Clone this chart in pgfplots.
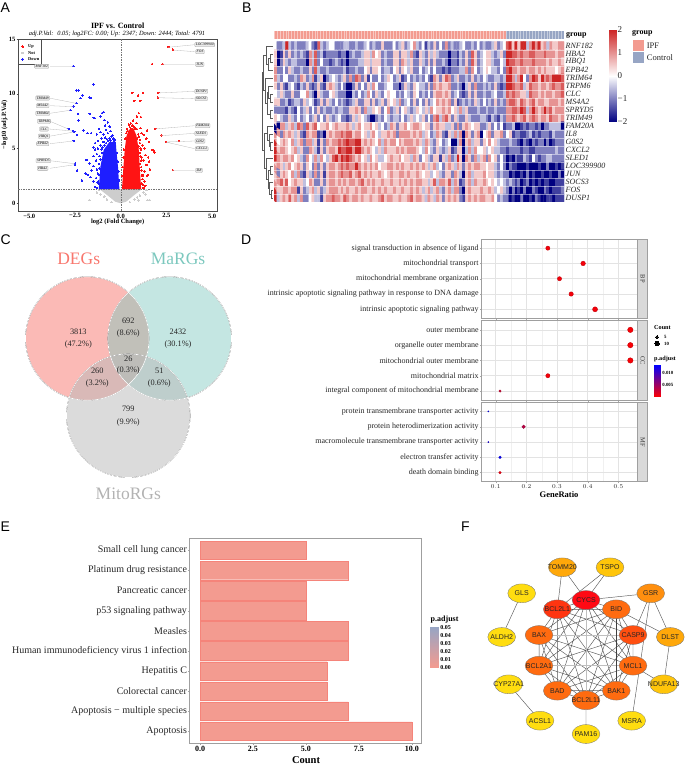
\documentclass[border=0pt]{standalone}
\usepackage{pgfplots}
\usepackage{fontspec}
\pgfplotsset{compat=1.18}
\setmainfont{Liberation Serif}
\newfontfamily\arial{Liberation Sans}
\newcommand\fs[1]{\fontsize{#1}{#1}\selectfont}
\definecolor{ipf}{RGB}{243,155,144}
\definecolor{ctl}{RGB}{151,165,196}
\definecolor{upc}{RGB}{255,20,20}
\definecolor{dnc}{RGB}{30,30,255}
\definecolor{nsc}{RGB}{205,205,205}
\definecolor{vd}{RGB}{248,118,109}
\definecolor{vm}{RGB}{124,200,190}
\definecolor{vg}{RGB}{184,184,184}
\definecolor{n1}{RGB}{255,221,16}
\definecolor{n2}{RGB}{255,197,10}
\definecolor{n3}{RGB}{255,168,10}
\definecolor{n4}{RGB}{255,143,15}
\definecolor{n5}{RGB}{255,107,16}
\definecolor{n6}{RGB}{255,79,16}
\definecolor{n7}{RGB}{255,53,16}
\definecolor{n8}{RGB}{255,10,20}
\pgfplotsset{
  colormap={hm}{rgb255=(0,0,128) rgb255=(255,255,255) rgb255=(205,38,38)},
  colormap={rb}{rgb255=(255,0,0) rgb255=(0,0,255)},
  colormap={pa}{rgb255=(243,155,144) rgb255=(151,165,196)},
  canvas/.style={at={(0pt,0pt)}, anchor=south west, x=1pt, y=1pt, xmin=0, xmax=685, ymin=0, ymax=765, y dir=reverse,
    axis lines=none, clip=false, unbounded coords=jump, tick=\empty},
  cbar/.style={scale only axis, xmin=0, xmax=1, xtick=\empty, yticklabel pos=right, major tick length=0pt,
    axis line style={draw=none}, scaled y ticks=false},
  facet/.style={scale only axis, width=156.4pt, height=79.5pt,
    xmin=0.053, xmax=0.563, ymin=0.4, ymax=5.6, y dir=reverse,
    xtick={0.1,0.2,0.3,0.4,0.5}, minor x tick num=1, ytick={1,2,3,4,5},
    grid=major, xminorgrids, major grid style={gray!22, line width=.5pt},
    minor grid style={gray!12, line width=.3pt},
    axis line style={gray!75, line width=.9pt}, tick style={gray!70, line width=.3pt},
    major tick length=1.5pt, minor tick length=0pt, tick align=outside,
    ticklabel style={font=\fs{8}, text=black!85}, clip=false,
    xtick pos=bottom, ytick pos=left,
    yticklabel style={inner sep=1pt}, xticklabel style={font=\fs{6.5}\bfseries, inner sep=1pt},
    colormap name=rb, point meta min=0, point meta max=0.0134},
  dots/.style={scatter, only marks, mark=*, scatter src=explicit,
    visualization depends on={\thisrow{s}\as\ms},
    scatter/@pre marker code/.append style={/tikz/mark size=\ms}},
  netn/.style={only marks, mark=*, mark size=9.4,
    mark options={xscale=1.48, fill=#1, draw=black!55, line width=.3pt},
    nodes near coords, point meta=explicit symbolic,
    every node near coord/.append style={anchor=center, inner sep=0pt, font=\arial\fs{7}, text=black!85}},
  volc/.style={only marks, mark=*, mark size=.75, color=#1, mark options={solid, draw=#1, fill=#1, line width=0pt}}
}
\begin{document}
\begin{tikzpicture}
\useasboundingbox (0,0) rectangle (685pt,765pt);

% A volcano
\begin{axis}[at={(18pt,726pt)}, anchor=north west, scale only axis, width=199pt, height=172pt,
  xmin=-5.62, xmax=5.27, ymin=-0.7, ymax=15,
  xtick={-5,-2.5,0,2.5,5}, xticklabels={−5.0,−2.5,0.0,2.5,5.0}, ytick={0,5,10,15},
  xtick pos=bottom, ytick pos=left, tick align=outside, major tick length=1.5pt,
  tick label style={font=\fs{6.5}\bfseries, inner sep=1pt},
  axis line style={black!70, line width=.7pt}, tick style={black!70, line width=.3pt},
  /pgf/number format/assume math mode=true]
\addplot[fill=nsc, draw=none] coordinates {(-1.15,1.28)(-.7,.7)(-.3,.15)(0,0)(.3,.15)(.7,.7)(1.15,1.28)} --cycle;
\addplot[volc=nsc] coordinates {(-1.71,.3)(1.48,.3)(1.59,.3)(.98,.28)(-1.3,1.0)(-1.1,.8)(-.9,.6)(1.25,1.0)(1.05,.7)(.9,.55)(1.35,.8)(.75,.35)(-.75,.35)(-.5,.1)(.5,.1)(-1.2,1.2)(1.4,1.2)};
\addplot[fill=upc, draw=none] coordinates {(.07,1.28)(.15,3.35)(.22,4.88)(.31,6.10)(.44,6.7)(.68,6.9)(.86,6.2)(.99,4.88)(1.05,3.05)(1.12,1.28)} --cycle;
\addplot[fill=dnc, draw=none] coordinates {(-.07,1.28)(-.15,3.35)(-.24,4.88)(-.27,5.6)(-.62,5.6)(-.93,4.88)(-1.11,3.35)(-1.2,1.28)} --cycle;
\addplot[volc=upc] coordinates {(2.61,14.27)(2.86,14.02)(2.30,12.71)(1.72,12.71)(2.06,10.09)(2.03,9.66)(1.90,6.80)(2.23,6.19)(2.48,5.61)(3.19,5.70)(2.85,3.02)
 (.64,10.09)(.95,9.85)(1.22,10.09)(.75,9.36)(1.08,9.36)(.99,8.23)(.89,7.93)(1.11,7.87)(.68,7.56)(.86,7.32)(.45,7.2)(.62,7.1)(1.08,6.86)(.89,6.77)(.75,6.95)(1.44,6.65)(1.26,6.25)
 (1.72,4.88)(1.81,4.82)(1.86,4.66)(1.40,5.9)(1.55,5.6)(1.15,6.4)(1.05,5.8)(1.2,5.3)(1.3,5.0)(1.1,4.9)(1.35,4.4)(1.5,4.2)(1.25,3.9)(1.15,4.2)(1.4,3.5)(1.55,3.8)(1.3,2.9)(1.2,2.5)(1.45,2.5)(1.3,2.0)(1.15,1.8)(1.35,1.6)(1.5,2.6)(1.6,3.1)
 (.95,6.3)(1.0,6.1)(.9,5.9)(1.05,5.5)(.98,5.2)(1.08,5.0)(1.02,4.6)(1.08,4.3)(1.12,3.9)(1.05,3.6)(1.12,3.3)(1.15,3.0)(1.18,2.6)(1.2,2.2)(1.22,1.7)(1.25,1.4)
 (.25,5.9)(.3,6.4)(.38,6.6)(.34,6.8)(.5,6.95)(.55,7.3)(.7,7.0)(.78,6.8)(.6,6.8)(.18,4.9)(.14,4.2)(.11,3.3)(.09,2.5)};
\addplot[volc=dnc] coordinates {(-2.59,12.53)(-1.50,10.85)(-2.43,10.3)(-2.32,10.3)(-2.08,9.85)(-2.2,9.6)(-1.7,9.66)(-1.62,9.6)(-2.43,9.15)(-2.57,8.84)(-2.76,8.5)(-2.34,8.17)(-2.32,7.56)(-1.7,8.17)(-1.48,7.8)(-1.42,7.77)
 (-1.02,8.23)(-.93,8.32)(-1.11,7.93)(-2.85,6.8)(-2.61,6.62)(-2.54,6.52)(-2.39,6.25)(-2.03,6.65)(-2.57,5.7)(-2.5,3.63)(-2.5,3.54)(-2.39,2.99)(-2.12,2.1)(-1.93,2.74)(-1.81,2.6)(-1.66,2.4)(-1.48,2.0)(-1.2,1.8)(-1.4,1.5)(-1.88,3.96)(-1.7,3.65)(-1.48,4.3)(-1.4,4.9)(-1.81,6.4)(-1.62,6.4)(-1.5,5.1)
 (-.9,7.6)(-.85,7.1)(-.7,7.4)(-.6,7.0)(-.8,6.7)(-1.2,6.8)(-1.1,6.5)(-1.3,6.3)(-.95,6.3)(-.7,6.4)(-.55,6.6)(-.45,6.2)(-.85,6.0)(-1.05,5.9)(-1.25,5.7)(-1.4,5.5)(-.6,5.9)(-.4,5.9)(-.5,6.1)(-.75,5.85)(-.95,5.6)(-1.1,5.3)(-1.25,5.0)(-1.05,4.9)(-1.3,4.5)(-1.15,4.3)(-1.35,3.9)(-1.2,3.6)(-1.5,3.4)(-1.3,3.1)(-1.25,2.7)(-1.6,3.0)(-1.35,2.3)(-1.28,1.9)(-1.3,1.4)
 (-.3,5.8)(-.35,5.7)(-.55,5.75)(-.68,5.7)(-.8,5.5)(-.88,5.3)(-1.0,5.1)(-1.03,4.6)(-1.1,4.0)(-1.15,3.2)(-1.2,2.6)(-1.23,2.0)(-.2,4.6)(-.16,3.8)(-.12,2.9)(-.09,2.1)};
\addplot[black!55, dash pattern=on 1.5pt off 1pt, line width=.4pt] coordinates {(-5.62,1.28)(5.27,1.28)};
\addplot[black!55, dash pattern=on 1.5pt off 1pt, line width=.4pt] coordinates {(0,-0.7)(0,15)};
\end{axis}

% B heatmap
\begin{axis}[at={(274pt,734.3pt)}, anchor=north west, scale only axis, width=290pt, height=8.6pt,
  xmin=0, xmax=100, ymin=0, ymax=1, xtick={0,...,100}, ytick=\empty, xticklabels={},
  xmajorgrids, major grid style={white, opacity=.45, line width=.2pt}, major tick length=0pt, axis on top, axis line style={draw=none}]
\addplot[fill=ipf, draw=none] coordinates {(0,0)(80,0)(80,1)(0,1)} --cycle;
\addplot[fill=ctl, draw=none] coordinates {(80,0)(100,0)(100,1)(80,1)} --cycle;
\end{axis}

\begin{axis}[at={(274pt,723.3pt)}, anchor=north west, scale only axis, width=290pt, height=160.3pt,
  xmin=-0.5, xmax=99.5, ymin=-0.5, ymax=19.5, y dir=reverse, xtick=\empty,
  ytick={0,...,19}, yticklabels={RNF182,HBA2,HBQ1,EPB42,TRIM64,TRPM6,CLC,MS4A2,SPRYD5,TRIM49,FAM20A,IL8,G0S2,CXCL2,SLED1,LOC399900,JUN,SOCS3,FOS,DUSP1},
  yticklabel pos=right, yticklabel style={font=\fs{8}\itshape, text=black!85, inner sep=1.5pt}, major tick length=0pt,
  axis line style={draw=none}, colormap name=hm, point meta min=-2, point meta max=2,
  minor xtick={0.5,...,98.5}, minor ytick={0.5,...,18.5}, xminorgrids, yminorgrids,
  minor grid style={white, opacity=.5, line width=.2pt}, minor tick length=0pt, axis on top]
\addplot[matrix plot*, point meta=explicit, mesh/cols=100] table[row sep=\\, x expr={mod(\coordindex,100)}, y expr={floor(\coordindex/100)}, meta=v] {v\\
0\\-1\\-1\\-.5\\2\\-.5\\-1\\-.5\\-1\\-1\\ -1\\-.5\\0\\-1\\-1.5\\1.5\\-.5\\-1\\-.5\\0\\ 0\\-1\\-1\\-1\\-.5\\-.5\\-1\\-1\\-.5\\-1\\ -1\\-.5\\0\\-1\\-.5\\-1\\-1\\.5\\-1\\-1\\ -1\\0\\-1\\-.5\\.5\\-1\\-.5\\0\\1\\-.5\\ -1\\0\\-1.5\\-.5\\-1\\.5\\-1\\0\\-1\\1\\ -1\\-.5\\-1\\-1\\-.5\\0\\-1\\-1\\-.5\\-1\\ 0\\-1\\-.5\\-1\\-1\\-.5\\.5\\-1\\-.5\\0\\ 1.5\\2\\.5\\2\\.5\\2\\2\\-.5\\1\\2\\ 1\\2\\.5\\1\\-.5\\1\\.5\\.5\\1\\1\\
.5\\-2\\-1.5\\.5\\-1\\.5\\-1\\-.5\\-1\\-.5\\ -1\\-1.5\\1\\-.5\\1.5\\-1\\-.5\\-1.5\\-1\\-1\\ -1\\-1\\-1.5\\-1\\-1\\-2\\-1\\-.5\\-1\\-1\\ -.5\\.5\\.5\\-.5\\1\\0\\.5\\-1\\-.5\\-1\\ -1\\.5\\.5\\-1\\.5\\.5\\-.5\\1\\-1\\-1.5\\ .5\\-.5\\-1\\.5\\-.5\\.5\\-.5\\-1\\-1\\-1\\ -2\\-1\\-1\\-1.5\\-.5\\-1\\.5\\-1\\1.5\\.5\\ -1\\-.5\\0\\.5\\.5\\-.5\\-1\\-.5\\.5\\-1\\ 2\\2\\1.5\\1.5\\1\\1.5\\1\\1\\1.5\\1.5\\ 1\\1\\1\\1.5\\1\\1\\1\\.5\\1\\1\\
.5\\-2\\-1\\.5\\-.5\\-1\\-.5\\-.5\\-1\\-1\\ -1\\-2\\1\\-.5\\1.5\\-1\\0\\-1\\-1\\-1.5\\ -1\\-.5\\-1\\-1.5\\-1\\-2\\-1\\-1\\-1\\-.5\\ -.5\\.5\\.5\\-.5\\.5\\.5\\.5\\-1\\-.5\\-1\\ -1\\.5\\.5\\-1\\1\\.5\\-.5\\.5\\-1\\-1\\ .5\\-.5\\-1\\.5\\-1\\.5\\-1\\-1\\-.5\\-1\\ -2\\-1\\-1\\-1.5\\-.5\\-1\\.5\\-1\\1.5\\.5\\ -1\\-.5\\0\\.5\\.5\\-.5\\-1\\-1\\0\\-.5\\ 2\\1.5\\1.5\\1\\1\\1.5\\1\\1\\1\\1.5\\ 1\\1\\1\\1\\.5\\1\\.5\\.5\\1\\.5\\
1\\-1\\-1\\0\\-1\\.5\\-.5\\-1\\-1\\-.5\\ -1\\-1\\.5\\-1\\1.5\\-.5\\-1\\-1\\-.5\\-1\\ -1\\-1\\-1\\-1\\-.5\\-1.5\\-1\\-1\\-.5\\-1\\ -1\\0\\.5\\-1\\.5\\.5\\0\\-1\\-.5\\-.5\\ -1\\0\\.5\\-1\\.5\\0\\-.5\\.5\\-1\\-1\\ 0\\-1\\-.5\\0\\-1\\0\\-1\\-1\\-1.5\\-1\\ -1.5\\-1\\-1\\-1\\-.5\\-.5\\1\\-1\\1\\0\\ -1\\-.5\\0\\.5\\0\\-.5\\-.5\\-1\\0\\-1\\ 1.5\\2\\1\\1\\.5\\1\\1\\.5\\1\\1\\ .5\\1\\.5\\1\\.5\\.5\\.5\\0\\.5\\1\\
1\\-.5\\-1\\0\\0\\-1\\-1\\-.5\\-1\\1\\ .5\\-1\\-.5\\1\\-1.5\\-.5\\.5\\-2\\-1\\-.5\\ 0\\-.5\\-1\\-.5\\.5\\-1\\1\\-1\\1.5\\1\\ -1\\.5\\-1.5\\0\\-1\\-1\\0\\-1\\-.5\\.5\\ 0\\-1\\-.5\\.5\\-1.5\\-1\\0\\-1\\-.5\\-1\\ -.5\\-1\\0\\-1\\-1.5\\1\\.5\\-1\\.5\\1.5\\ 1\\-1\\-.5\\.5\\-1\\-1\\-.5\\-1\\.5\\-1\\ -.5\\-1\\0\\-.5\\-1\\-1\\-.5\\-.5\\-1\\-.5\\ 2\\2\\1\\-.5\\1\\2\\0\\-1\\1\\2\\ 1.5\\.5\\2\\1\\1.5\\1\\2\\2\\2\\1.5\\
.5\\-1\\.5\\-1\\-1.5\\-.5\\0\\-1\\-1.5\\-.5\\ -1\\.5\\-1\\-1.5\\-1\\.5\\-1\\-1.5\\.5\\1\\ .5\\-.5\\-1\\0\\-1\\-2\\-2\\-1\\.5\\-1\\ 0\\-1\\.5\\-.5\\1\\0\\-1\\-1\\-.5\\0\\ 0\\-1\\-1\\-2\\-1\\.5\\-.5\\-1\\.5\\0\\ -.5\\-.5\\-1\\.5\\-1\\1\\.5\\1\\.5\\.5\\ 1\\-1\\-1\\-.5\\-1\\-2\\-.5\\.5\\-1\\1\\ -1\\-1\\-.5\\-1\\-.5\\-1\\.5\\-1\\-1.5\\-1\\ 2\\2\\1.5\\1\\1\\1.5\\-.5\\.5\\1.5\\1\\ 1\\.5\\1\\1\\.5\\1\\1.5\\1\\1\\1.5\\
0\\-.5\\.5\\-.5\\-1\\-1\\.5\\-1\\-1\\0\\ 0\\1\\-.5\\-1\\-2\\.5\\-.5\\-1\\-1\\0\\ .5\\-.5\\-1\\-1\\-1\\-2\\-2\\-.5\\-1\\0\\ -1\\-.5\\1\\0\\-1\\.5\\-.5\\-1\\0\\.5\\ 0\\0\\-1\\-.5\\-1\\0\\-.5\\-1\\.5\\0\\ -1\\-.5\\-1\\0\\-1\\.5\\1\\1\\.5\\1\\ .5\\-1\\-.5\\0\\-1\\-1.5\\-1\\.5\\-1\\.5\\ -1\\-1\\-.5\\-1\\-1\\-.5\\0\\-1\\-1\\-.5\\ 1.5\\1\\1.5\\1\\1\\.5\\.5\\-.5\\1.5\\1\\ 1\\.5\\1\\.5\\1\\1\\.5\\1\\1\\1.5\\
.5\\.5\\-1\\-1\\-.5\\-1.5\\-1\\-.5\\-.5\\-1\\ .5\\-.5\\0\\-.5\\-1.5\\-1\\.5\\-1\\.5\\-.5\\ -1\\0\\-1\\-.5\\-1\\-1.5\\-1\\-.5\\.5\\-1\\ -1\\.5\\.5\\-1\\.5\\-1\\-.5\\.5\\-1\\.5\\ 0\\.5\\-.5\\1\\-1\\-.5\\0\\-1\\.5\\-1\\ 0\\-1\\.5\\-1\\-.5\\0\\1\\.5\\1\\.5\\ 1\\-1\\.5\\-1.5\\-1\\-.5\\-1\\-.5\\-1\\.5\\ -.5\\-1\\0\\-1\\-.5\\-1\\.5\\-1\\-.5\\-1\\ 1\\1.5\\1.5\\1\\.5\\1.5\\1\\.5\\1\\1.5\\ .5\\1\\1\\.5\\.5\\1\\1\\1\\.5\\1\\
-1\\-1\\-1\\-1\\-1.5\\-.5\\-1\\-1.5\\0\\-1\\ -.5\\.5\\-1\\0\\-1\\.5\\-1\\-.5\\-1\\-1\\ -.5\\-1\\-.5\\-.5\\-1\\-1\\.5\\.5\\1\\.5\\ -1\\1\\-.5\\-.5\\.5\\0\\.5\\-1\\0\\1\\ -1\\-.5\\.5\\-1\\0\\.5\\-.5\\-1\\-.5\\.5\\ 0\\-.5\\.5\\-.5\\1\\0\\.5\\.5\\1\\.5\\ 1\\0\\.5\\-.5\\1\\-.5\\.5\\-1\\-1\\-1\\ -.5\\-1\\-1\\-.5\\-1\\-1\\-.5\\-1\\-1\\-1\\ 1\\1\\1.5\\1.5\\1\\2\\1.5\\-.5\\1\\2\\ 1\\.5\\1\\2\\1\\1.5\\.5\\1\\1\\1\\
.5\\0\\-.5\\-1\\-1\\.5\\-.5\\-1\\0\\-1\\ -.5\\0\\-1\\-.5\\.5\\-1\\0\\-1\\.5\\-.5\\ -1\\-.5\\0\\-1\\-1\\-1.5\\-1\\.5\\-.5\\.5\\ 0\\-.5\\-1\\-2\\-2\\-1\\-.5\\-1\\0\\-.5\\ -1\\-.5\\-.5\\-1\\0\\-1\\-.5\\.5\\-.5\\0\\ -.5\\.5\\-1\\0\\-1\\1\\1.5\\-.5\\1\\1.5\\ .5\\-1\\.5\\-.5\\-1\\-1\\.5\\-.5\\-1\\-1\\ -1\\-.5\\-.5\\-1\\-1.5\\-.5\\-1\\-1.5\\-.5\\-1\\ 1\\1\\1.5\\1\\.5\\1\\1.5\\.5\\1\\1.5\\ 1\\.5\\1\\1\\.5\\1.5\\1\\1\\.5\\1\\
.5\\-2\\1\\1\\-.5\\.5\\1\\-.5\\1.5\\1\\ -1\\1.5\\.5\\1\\1.5\\0\\.5\\.5\\1\\0\\ .5\\1\\.5\\.5\\.5\\1\\.5\\-.5\\.5\\1\\ 0\\.5\\.5\\1\\0\\.5\\-.5\\0\\-1\\-.5\\ 1\\.5\\-1\\.5\\.5\\1\\0\\.5\\1\\1\\ .5\\0\\.5\\.5\\-1\\.5\\1\\.5\\.5\\-.5\\ -.5\\.5\\-1\\1\\-1\\.5\\1\\.5\\0\\.5\\ .5\\-1\\-1\\-.5\\.5\\-1\\0\\-1\\0\\-1.5\\ -1\\-1\\-.5\\-2\\-2\\-1.5\\-1\\-1.5\\-1\\-1\\ -1.5\\-1\\-2\\-1\\-1\\-.5\\-.5\\-.5\\-.5\\-2\\
-2\\1\\-1\\1\\.5\\1\\.5\\-.5\\.5\\-1\\ -1.5\\1\\.5\\1\\1\\-1.5\\-1\\-2\\.5\\1\\ .5\\1\\1\\1.5\\1\\1.5\\1.5\\.5\\1\\1\\ 0\\.5\\-.5\\.5\\1\\0\\-.5\\.5\\.5\\1\\ .5\\1\\-1\\1\\1\\1\\1\\.5\\1\\.5\\ 1\\-.5\\.5\\0\\-1\\-.5\\1\\.5\\-1\\-1.5\\ .5\\-.5\\1\\-.5\\1\\-2\\1\\.5\\-1\\.5\\ 1\\-2\\0\\.5\\1\\-1\\.5\\.5\\1\\-1\\ 0\\.5\\-1.5\\-1\\-1\\-1.5\\-1.5\\-1\\-.5\\-1.5\\ -1\\-1.5\\-1\\-1\\-1\\-1.5\\-.5\\-1\\-1\\-1\\
1\\0\\.5\\1\\.5\\0\\1\\-.5\\.5\\1\\ -1\\1\\1\\-.5\\.5\\-1.5\\.5\\-1\\1\\.5\\ 1\\1\\1.5\\1\\1.5\\2\\1.5\\1.5\\2\\2\\ .5\\1\\.5\\1\\.5\\0\\1\\-.5\\1\\.5\\ 1\\1\\0\\1\\.5\\1\\1\\1\\.5\\1\\ .5\\-.5\\1\\.5\\-.5\\-1\\.5\\0\\-1\\-.5\\ 0\\-2\\-2\\-.5\\1\\-2\\.5\\1\\-.5\\.5\\ .5\\-1\\.5\\0\\1\\0\\.5\\-.5\\-1\\-1\\ -1\\-.5\\-1\\-1\\-1.5\\-2\\-1\\-1.5\\-2\\-1\\ -1.5\\-1\\-1\\-2\\-1\\-2\\-1.5\\-1\\-1\\-1\\
2\\.5\\1\\1\\.5\\0\\.5\\1\\-.5\\.5\\ -1\\-1\\1\\.5\\-.5\\-1.5\\.5\\-1\\.5\\1\\ 1\\.5\\2\\1.5\\1.5\\2\\2\\1\\2\\2\\ 1\\.5\\1\\.5\\0\\-.5\\.5\\-.5\\1\\.5\\ .5\\.5\\1\\.5\\1\\.5\\1\\1\\1\\.5\\ 0\\-.5\\1\\0\\-.5\\-1\\.5\\-.5\\-1\\-.5\\ .5\\-1.5\\-1\\.5\\.5\\-2\\-.5\\1\\-.5\\1\\ 0\\0\\.5\\-.5\\0\\.5\\-.5\\-.5\\-1\\-1\\ -1.5\\-1\\-1\\-1\\-1\\-1.5\\-1\\-1\\-1.5\\-1.5\\ -1\\-1\\-1\\-1\\-1\\-1\\-1\\-.5\\-1\\-1\\
2\\1\\.5\\1\\1\\.5\\1\\0\\.5\\-.5\\ -1\\1\\0\\-.5\\1\\-.5\\1\\0\\-.5\\.5\\ 1.5\\2\\1\\2\\1.5\\2\\1.5\\1\\.5\\1\\ 0\\.5\\-.5\\1\\0\\.5\\-.5\\-.5\\0\\.5\\ 1\\.5\\.5\\1\\0\\.5\\.5\\-.5\\1\\.5\\ -1\\0\\.5\\-.5\\-1\\.5\\.5\\-1.5\\.5\\-.5\\ 1\\-1\\-.5\\2\\.5\\-2\\1\\.5\\-1\\1\\ -.5\\.5\\1\\-1\\1\\0\\.5\\-1\\0\\-1\\ -2\\-1.5\\-2\\-1\\-1.5\\-1.5\\-.5\\-1\\-1.5\\0\\ -1\\-1.5\\-1\\-1\\-.5\\-.5\\-1\\-1\\-1\\-1\\
.5\\1\\.5\\-.5\\.5\\1\\0\\.5\\1\\.5\\ -1\\.5\\0\\-1\\1\\-1\\.5\\-1\\.5\\1\\ 1\\.5\\1\\1.5\\1\\1.5\\1\\1\\2\\1\\ .5\\1\\.5\\1\\.5\\1\\0\\.5\\.5\\1\\ 1\\.5\\1\\.5\\1\\.5\\.5\\1\\.5\\1\\ .5\\1\\.5\\-.5\\.5\\1\\-.5\\0\\-1\\.5\\ 1\\.5\\-.5\\1\\.5\\-1\\.5\\1\\.5\\1\\ 1\\.5\\.5\\0\\.5\\.5\\-.5\\-1\\0\\-1\\ -2\\-1\\-1.5\\-1.5\\-2\\-2\\-2\\-1.5\\-2\\-2\\ -2\\-1.5\\-2\\-2\\-1\\-2\\-2\\-1.5\\-2\\-1.5\\
1\\-1\\.5\\1\\.5\\0\\1\\-.5\\1\\-1\\ -1.5\\.5\\-.5\\-1\\1\\-1\\.5\\-1.5\\.5\\1\\ 1\\.5\\1\\1.5\\1\\1\\1.5\\.5\\1\\1.5\\ .5\\1\\.5\\1\\.5\\.5\\1\\.5\\0\\.5\\ 1\\.5\\.5\\1\\1\\.5\\1\\.5\\.5\\1\\ .5\\0\\.5\\.5\\-.5\\0\\.5\\-.5\\-1\\.5\\ .5\\-1\\1\\.5\\-.5\\-2\\.5\\1\\-.5\\.5\\ .5\\.5\\1\\0\\.5\\.5\\-.5\\-1\\-.5\\-1\\ -1\\-2\\-1.5\\-2\\-2\\-1.5\\-2\\-1\\-2\\-1.5\\ -2\\-2\\-1.5\\-2\\-2\\-1.5\\-2\\-2\\-1\\-2\\
.5\\1\\1.5\\.5\\1.5\\0\\.5\\1\\.5\\.5\\ -.5\\0\\1\\.5\\-1\\-1\\.5\\-1\\.5\\1\\ 1\\.5\\1\\.5\\1\\.5\\1\\1\\.5\\1\\ 1.5\\.5\\1\\.5\\1\\.5\\.5\\1\\.5\\.5\\ 1\\.5\\.5\\1\\.5\\1\\.5\\1\\.5\\1\\ 1\\.5\\.5\\-.5\\.5\\1.5\\-.5\\1\\1\\.5\\ 1.5\\-.5\\1\\.5\\-1.5\\-1\\.5\\1\\-.5\\1\\ .5\\.5\\1\\.5\\0\\.5\\0\\-.5\\0\\-.5\\ -1\\-.5\\-1\\-1.5\\-1\\-2\\-1.5\\-1\\-2\\-1.5\\ -2\\-1.5\\-2\\-1.5\\-1.5\\-2\\-2\\-1.5\\-1.5\\-1.5\\
1\\.5\\.5\\1\\1\\.5\\1\\1\\-1.5\\.5\\ -1\\-.5\\.5\\1\\-.5\\.5\\-1\\-.5\\.5\\1\\ 1\\1\\.5\\1\\.5\\1\\.5\\.5\\1\\.5\\ 1\\1\\.5\\.5\\1\\.5\\1\\.5\\1\\.5\\ .5\\1\\.5\\.5\\1\\.5\\.5\\1\\.5\\1\\ .5\\-.5\\.5\\1\\-.5\\.5\\1\\-.5\\-1\\.5\\ 1\\-.5\\1\\1\\-1\\-2\\.5\\1\\.5\\.5\\ .5\\1\\.5\\.5\\1\\.5\\-.5\\0\\.5\\-.5\\ -1\\-2\\-1\\-2\\-1.5\\-2\\-1\\-2\\-2\\-1\\ -1.5\\-2\\-2\\-1\\-1.5\\-2\\-1.5\\-1.5\\-1.5\\-1\\
2\\-.5\\.5\\1\\.5\\1.5\\.5\\1\\-.5\\1\\ -1\\-1\\0\\.5\\-.5\\-.5\\-1.5\\.5\\1\\1\\ 1.5\\1\\1\\.5\\1.5\\1\\.5\\1\\1\\.5\\ 1\\.5\\.5\\1\\.5\\.5\\1\\1.5\\.5\\1\\ 1\\.5\\.5\\1\\.5\\.5\\1\\1.5\\.5\\1\\ 1\\.5\\-.5\\1\\.5\\-.5\\1\\.5\\-1\\.5\\ 1\\.5\\1\\.5\\-1\\-1.5\\.5\\1\\.5\\1\\ .5\\1\\1\\.5\\.5\\1\\0\\-1\\-.5\\-1\\ -1\\-2\\-1.5\\-2\\-2\\-1\\-2\\-2\\-1.5\\-2\\ -1\\-1.5\\-2\\-2\\-1.5\\-1.5\\-2\\-1.5\\-1.5\\-1.5\\
};
\end{axis}

\begin{axis}[cbar, at={(609.3pt,735pt)}, anchor=north west, width=6.7pt, height=92pt,
  ymin=-2, ymax=2, ytick={-2,-1,0,1,2}, yticklabels={−2,−1,0,1,2},
  yticklabel style={font=\fs{9}, text=black!85, inner sep=1.5pt},
  colormap name=hm, point meta min=-2, point meta max=2]
\addplot[surf, shader=interp, point meta=y, mesh/cols=2] coordinates {(0,-2)(1,-2)(0,-1)(1,-1)(0,0)(1,0)(0,1)(1,1)(0,2)(1,2)};
\end{axis}

% D dot facets
\begin{axis}[facet, at={(481.3pt,526pt)}, anchor=north west, xticklabels={},
  yticklabels={signal transduction in absence of ligand,mitochondrial transport,mitochondrial membrane organization,intrinsic apoptotic signaling pathway in response to DNA damage,intrinsic apoptotic signaling pathway}]
\addplot[dots] table[x=x,y=y,meta=m] {
x y s m
0.27 1 2.1 0.0005
0.385 2 2.3 0.0005
0.308 3 2.1 0.0005
0.346 4 2.2 0.0005
0.424 5 2.5 0.0005
};
\end{axis}
\begin{axis}[facet, at={(481.3pt,444.3pt)}, anchor=north west, xticklabels={},
  yticklabels={outer membrane,organelle outer membrane,mitochondrial outer membrane,mitochondrial matrix,integral component of mitochondrial membrane}]
\addplot[dots] table[x=x,y=y,meta=m] {
x y s m
0.539 1 2.7 0.0003
0.539 2 2.7 0.0003
0.539 3 2.7 0.0003
0.27 4 2.1 0.0005
0.114 5 1.2 0.0025
};
\end{axis}
\begin{axis}[facet, at={(481.3pt,362.7pt)}, anchor=north west,
  yticklabels={protein transmembrane transporter activity,protein heterodimerization activity,macromolecule transmembrane transporter activity,electron transfer activity,death domain binding}]
\addplot[dots] table[x=x,y=y,meta=m] {
x y s m
0.076 1 .6 0.013
0.191 2 1.8 0.0035
0.076 3 .6 0.012
0.114 4 1.3 0.013
0.114 5 1.3 0.001
};
\end{axis}

\begin{axis}[cbar, at={(654pt,400pt)}, anchor=north west, width=6.7pt, height=32pt,
  ymin=0.0001, ymax=0.0134, ytick={0.005,0.01}, yticklabels={0.005,0.010},
  yticklabel style={font=\fs{4.8}\bfseries, inner sep=1.5pt},
  colormap name=rb, point meta min=0.0001, point meta max=0.0134]
\addplot[surf, shader=interp, point meta=y, mesh/cols=2] coordinates {(0,0.0001)(1,0.0001)(0,0.0134)(1,0.0134)};
\end{axis}

% E bars
\begin{axis}[at={(189.7pt,226.7pt)}, anchor=north west, scale only axis, width=232pt, height=205pt,
  xmin=-0.487, xmax=10.47, ymin=0.4, ymax=10.6, y dir=reverse,
  xtick={0,2.5,5,7.5,10}, xticklabels={0.0,2.5,5.0,7.5,10.0}, ytick={1,...,10},
  yticklabels={Small cell lung cancer,Platinum drug resistance,Pancreatic cancer,p53 signaling pathway,Measles,Human immunodeficiency virus 1 infection,Hepatitis C,Colorectal cancer,Apoptosis − multiple species,Apoptosis},
  xtick pos=bottom, ytick pos=left, tick align=outside, major tick length=1.5pt,
  axis line style={gray!75, line width=.7pt}, tick style={gray!70, line width=.3pt},
  yticklabel style={font=\fs{10}, text=black!85, inner sep=1pt}, xticklabel style={font=\fs{8}\bfseries, inner sep=1pt}]
\addplot[xbar, bar width=18.5pt, fill=ipf, draw=ipf!85!red, line width=.3pt] coordinates {(5,1)(7,2)(5,3)(5,4)(7,5)(7,6)(6,7)(6,8)(7,9)(10,10)};
\end{axis}

\begin{axis}[cbar, at={(430pt,137.7pt)}, anchor=north west, width=8.7pt, height=40pt,
  ymin=0, ymax=0.05, ytick={0,0.01,0.02,0.03,0.04,0.05}, yticklabels={0.00,0.01,0.02,0.03,0.04,0.05},
  yticklabel style={font=\fs{6}\bfseries, inner sep=1.5pt},
  colormap name=pa, point meta min=0, point meta max=0.05]
\addplot[surf, shader=interp, point meta=y, mesh/cols=2] coordinates {(0,0)(1,0)(0,0.05)(1,0.05)};
\end{axis}

% pixel canvas: everything else
\begin{axis}[canvas]

% panel letters
\node[font=\arial\fs{14}, anchor=west, inner sep=0] at (axis cs:0.5,8) {A};
\node[font=\arial\fs{14}, anchor=west, inner sep=0] at (axis cs:242,8) {B};
\node[font=\arial\fs{14}, anchor=west, inner sep=0] at (axis cs:0.5,240) {C};
\node[font=\arial\fs{14}, anchor=west, inner sep=0] at (axis cs:241,240) {D};
\node[font=\arial\fs{14}, anchor=west, inner sep=0] at (axis cs:0.5,527) {E};
\node[font=\arial\fs{14}, anchor=west, inner sep=0] at (axis cs:461,527) {F};

% A titles and legend
\node[font=\fs{8}\bfseries] at (axis cs:117.7,26) {IPF vs. Control};
\node[font=\fs{6.4}\itshape] at (axis cs:117,33.7) {adj.P.Val:~ 0.05; log2FC: 0.00; Up: 2347; Down: 2444; Total: 4791};
\node[font=\fs{6.5}\bfseries] at (axis cs:117.7,222.3) {log2 (Fold Change)};
\node[font=\fs{6.5}\bfseries, rotate=90] at (axis cs:4.7,125) {−log10 (adj.P.Val)};
\addplot[fill=white, draw=black!70, line width=.5pt] coordinates {(18,39)(41.3,39)(41.3,64.3)(18,64.3)} --cycle;
\addplot[volc=upc, mark size=.9] coordinates {(22.7,46.7)};
\addplot[volc=nsc, mark size=.9] coordinates {(22.7,53)};
\addplot[volc=dnc, mark size=.9] coordinates {(22.7,59.3)};
\node[font=\fs{4.4}\bfseries, anchor=west, inner sep=0] at (axis cs:28,46.7) {Up};
\node[font=\fs{4.4}\bfseries, anchor=west, inner sep=0] at (axis cs:28,53) {Not};
\node[font=\fs{4.4}\bfseries, anchor=west, inner sep=0] at (axis cs:28,59.3) {Down};
% A connectors, px
\addplot[gray!55, line width=.3pt] coordinates {
(168,47.3)(194.7,44.7)(nan,nan)(172.7,50)(194.7,51.7)(nan,nan)(162.3,64.3)(194.7,64.3)(nan,nan)
(158,93)(194.7,91.3)(nan,nan)(157.3,97.7)(194.7,98.7)(nan,nan)(155,129)(194.7,125.7)(nan,nan)(161,135.7)(194.7,133.3)(nan,nan)(165.7,142)(194.7,141)(nan,nan)(165.7,142)(194.7,148.7)(nan,nan)(172.3,170.3)(194.7,170.3)(nan,nan)
(73,66.3)(50,66.3)(nan,nan)(76,103.3)(49,98)(nan,nan)(73.3,106.7)(50,105.7)(nan,nan)(70,110.3)(50,113.3)(nan,nan)(68.3,129)(50,121.3)(nan,nan)(72.7,131)(49,129)(nan,nan)(74,132)(49,136.3)(nan,nan)(73.3,141)(50,143.7)(nan,nan)(74.7,163.7)(50,160.7)(nan,nan)(74.7,164.7)(50,168.3)};
\tikzset{gl/.style={draw=gray!70, fill=white!92!black, rounded corners=.8pt, font=\fs{3.6}\itshape, inner xsep=1pt, inner ysep=.9pt, line width=.3pt}}
\node[gl] at (axis cs:204.7,44.7) {LOC399900};
\node[gl] at (axis cs:200,51.7) {FOS};
\node[gl] at (axis cs:199.7,64.3) {JUN};
\node[gl] at (axis cs:201.3,91.3) {DUSP1};
\node[gl] at (axis cs:201.3,98.7) {SOCS3};
\node[gl] at (axis cs:202.7,125.7) {FAM20A};
\node[gl] at (axis cs:201,133.3) {SLED1};
\node[gl] at (axis cs:200,141) {G0S2};
\node[gl] at (axis cs:201.7,148.7) {CXCL2};
\node[gl] at (axis cs:199,170.3) {IL8};
\node[gl] at (axis cs:41.7,66.3) {RNF182};
\node[gl] at (axis cs:42.7,98) {TRIM49};
\node[gl] at (axis cs:42.7,105.7) {MS4A2};
\node[gl] at (axis cs:42.7,113.3) {TRIM64};
\node[gl] at (axis cs:44,121.3) {TRPM6};
\node[gl] at (axis cs:44,129) {CLC};
\node[gl] at (axis cs:44,136.3) {HBQ1};
\node[gl] at (axis cs:42.7,143.7) {EPB42};
\node[gl] at (axis cs:43.3,160.7) {SPRYD5};
\node[gl] at (axis cs:42.7,168.3) {HBA2};

% B dendrogram and legend
\addplot[gray!70!black, line width=.35pt] coordinates {
(273,53.7)(270.5,53.7)(270.5,61.7)(273,61.7)(nan,nan)
(270.5,57.7)(268.5,57.7)(268.5,69.7)(273,69.7)(nan,nan)
(273,45.7)(266.5,45.7)(266.5,63.7)(268.5,63.7)(nan,nan)
(273,93.7)(270,93.7)(270,101.7)(273,101.7)(nan,nan)
(273,85.7)(268.5,85.7)(268.5,97.7)(270,97.7)(nan,nan)
(273,109.7)(270,109.7)(270,117.7)(273,117.7)(nan,nan)
(268.5,91.7)(267,91.7)(267,113.7)(270,113.7)(nan,nan)
(273,77.7)(265.5,77.7)(265.5,102.7)(267,102.7)(nan,nan)
(266.5,54.7)(263.5,54.7)(263.5,90.2)(265.5,90.2)(nan,nan)
(273,141.7)(270.5,141.7)(270.5,149.7)(273,149.7)(nan,nan)
(273,133.7)(269,133.7)(269,145.7)(270.5,145.7)(nan,nan)
(273,125.7)(267,125.7)(267,139.7)(269,139.7)(nan,nan)
(273,189.7)(271,189.7)(271,197.7)(273,197.7)(nan,nan)
(273,181.7)(269.5,181.7)(269.5,193.7)(271,193.7)(nan,nan)
(273,165.7)(270.5,165.7)(270.5,173.7)(273,173.7)(nan,nan)
(270.5,169.7)(268,169.7)(268,187.7)(269.5,187.7)(nan,nan)
(273,157.7)(266.5,157.7)(266.5,178.7)(268,178.7)(nan,nan)
(267,132.7)(264.5,132.7)(264.5,168.2)(266.5,168.2)(nan,nan)
(263.5,72.5)(262,72.5)(262,150.5)(264.5,150.5)};
\node[font=\fs{8}\bfseries, anchor=west, inner sep=0] at (axis cs:566,35.5) {group};
\node[font=\fs{8}\bfseries, anchor=west, inner sep=0] at (axis cs:632,33.7) {group};
\addplot[fill=ipf, draw=white, line width=.4pt] coordinates {(632,39.3)(644,39.3)(644,51.5)(632,51.5)} --cycle;
\addplot[fill=ctl, draw=white, line width=.4pt] coordinates {(632,51.5)(644,51.5)(644,63.5)(632,63.5)} --cycle;
\node[font=\fs{8.5}, text=black!85, anchor=west, inner sep=0] at (axis cs:646.7,45.3) {IPF};
\node[font=\fs{8.5}, text=black!85, anchor=west, inner sep=0] at (axis cs:646.7,57.5) {Control};

% C venn circles
\addplot[only marks, mark=*, mark size=61.8, mark options={fill=vd, fill opacity=.5, draw=none}] coordinates {(87.3,338.5)};
\addplot[only marks, mark=*, mark size=61.8, mark options={fill=vm, fill opacity=.45, draw=none}] coordinates {(169.7,338.5)};
\addplot[only marks, mark=*, mark size=61.8, mark options={fill=vg, fill opacity=.5, draw=none}] coordinates {(128.3,415.7)};
\addplot[only marks, mark=o, mark size=61.8, mark options={draw=white, line width=.7pt}] coordinates {(87.3,338.5)(169.7,338.5)(128.3,415.7)};

% D strips and legend
\addplot[fill=gray!30, draw=gray!75, line width=.7pt] coordinates {(637.7,239)(647.7,239)(647.7,318.3)(637.7,318.3)} --cycle;
\addplot[fill=gray!30, draw=gray!75, line width=.7pt] coordinates {(637.7,320.7)(647.7,320.7)(647.7,400.3)(637.7,400.3)} --cycle;
\addplot[fill=gray!30, draw=gray!75, line width=.7pt] coordinates {(637.7,402.3)(647.7,402.3)(647.7,481.7)(637.7,481.7)} --cycle;
\node[font=\fs{6.5}, rotate=-90, text=black!80] at (axis cs:642.7,278.7) {BP};
\node[font=\fs{6.5}, rotate=-90, text=black!80] at (axis cs:642.7,360.5) {CC};
\node[font=\fs{6.5}, rotate=-90, text=black!80] at (axis cs:642.7,442) {MF};
\node[font=\fs{8.5}\bfseries] at (axis cs:559,495) {GeneRatio};
\node[font=\fs{6.2}\bfseries, anchor=west, inner sep=0] at (axis cs:654,327.5) {Count};
\addplot[volc=black, mark size=1.3] coordinates {(657,337)};
\addplot[volc=black, mark size=2.2] coordinates {(657,343.5)};
\node[font=\fs{4.8}\bfseries, anchor=west, inner sep=0] at (axis cs:664,337) {5};
\node[font=\fs{4.8}\bfseries, anchor=west, inner sep=0] at (axis cs:664,343.5) {10};
\node[font=\fs{6.2}\bfseries, anchor=west, inner sep=0] at (axis cs:654,358.7) {p.adjust};

% E
\node[font=\fs{10.5}\bfseries] at (axis cs:306,760.5) {Count};
\node[font=\fs{8}\bfseries, anchor=west, inner sep=0] at (axis cs:430.5,619.3) {p.adjust};

% F network
\addplot[black!65, line width=.45pt] coordinates {
(586,600)(557.3,609.3)(nan,nan)(586,600)(616.3,609.3)(nan,nan)(586,600)(539,635)(nan,nan)(586,600)(633,635)(nan,nan)(586,600)(539,665.7)(nan,nan)(586,600)(633,665.7)(nan,nan)(586,600)(557.3,690.7)(nan,nan)(586,600)(616.3,690.7)(nan,nan)
(557.3,609.3)(616.3,609.3)(nan,nan)(557.3,609.3)(539,635)(nan,nan)(557.3,609.3)(633,635)(nan,nan)(557.3,609.3)(539,665.7)(nan,nan)(557.3,609.3)(633,665.7)(nan,nan)(557.3,609.3)(557.3,690.7)(nan,nan)(557.3,609.3)(616.3,690.7)(nan,nan)(557.3,609.3)(586,700.3)(nan,nan)
(616.3,609.3)(539,635)(nan,nan)(616.3,609.3)(633,635)(nan,nan)(616.3,609.3)(539,665.7)(nan,nan)(616.3,609.3)(633,665.7)(nan,nan)(616.3,609.3)(557.3,690.7)(nan,nan)(616.3,609.3)(586,700.3)(nan,nan)
(539,635)(539,665.7)(nan,nan)(539,635)(633,665.7)(nan,nan)(539,635)(557.3,690.7)(nan,nan)(539,635)(616.3,690.7)(nan,nan)(539,635)(586,700.3)(nan,nan)
(633,635)(539,665.7)(nan,nan)(633,635)(633,665.7)(nan,nan)(633,635)(557.3,690.7)(nan,nan)(633,635)(616.3,690.7)(nan,nan)(633,635)(586,700.3)(nan,nan)
(539,665.7)(633,665.7)(nan,nan)(539,665.7)(557.3,690.7)(nan,nan)(539,665.7)(616.3,690.7)(nan,nan)(539,665.7)(586,700.3)(nan,nan)
(633,665.7)(557.3,690.7)(nan,nan)(633,665.7)(616.3,690.7)(nan,nan)(633,665.7)(586,700.3)(nan,nan)
(557.3,690.7)(616.3,690.7)(nan,nan)(557.3,690.7)(586,700.3)(nan,nan)(616.3,690.7)(586,700.3)(nan,nan)
(562.3,567.3)(557.3,609.3)(nan,nan)(562.3,567.3)(586,600)(nan,nan)(610,567.3)(586,600)(nan,nan)(610,567.3)(557.3,609.3)(nan,nan)
(521.7,593.3)(501.7,637)(nan,nan)(650.7,593.3)(586,600)(nan,nan)(650.7,593.3)(633,635)(nan,nan)(650.7,593.3)(670.3,637)(nan,nan)(650.7,593.3)(631.7,720.7)(nan,nan)
(616.3,609.3)(670.3,637)(nan,nan)(670.3,637)(663.7,684.3)(nan,nan)(633,665.7)(663.7,684.3)(nan,nan)
(508.7,684.3)(540,720.7)(nan,nan)(586,700.3)(586,734)};
\addplot[gray!50, line width=1pt] coordinates {(539,635)(633,635)(nan,nan)(539,665.7)(633,665.7)(nan,nan)(586,600)(586,700.3)(nan,nan)(539,635)(539,665.7)};
\addplot[black!75, line width=.9pt] coordinates {(616.3,609.3)(616.3,690.7)};
\addplot[netn=n1] table[meta=l] {
x y l
521.7 593.3 GLS
501.7 637 ALDH2
508.7 684.3 CYP27A1
540 720.7 ACSL1
631.7 720.7 MSRA
586 734 PAM16
};
\addplot[netn=n2] table[meta=l] {
x y l
610 567.3 TSPO
663.7 684.3 NDUFA13
};
\addplot[netn=n3] table[meta=l] {
x y l
562.3 567.3 TOMM20
670.3 637 DLST
};
\addplot[netn=n4] table[meta=l] {
x y l
650.7 593.3 GSR
};
\addplot[netn=n5] table[meta=l] {
x y l
616.3 609.3 BID
539 635 BAX
539 665.7 BCL2A1
633 665.7 MCL1
557.3 690.7 BAD
616.3 690.7 BAK1
586 700.3 BCL2L11
};
\addplot[netn=n6] table[meta=l] {
x y l
633 635 CASP9
};
\addplot[netn=n7] table[meta=l] {
x y l
557.3 609.3 BCL2L1
};
\addplot[netn=n8] table[meta=l] {
x y l
586 600 CYCS
};
\end{axis}

% text over the venn marks
\begin{axis}[canvas]
\node[font=\fs{17.5}, text=vd] at (axis cs:78.7,259) {DEGs};
\node[font=\fs{17.5}, text=vm] at (axis cs:178,259) {MaRGs};
\node[font=\fs{17.5}, text=gray!60] at (axis cs:128.3,494) {MitoRGs};
\tikzset{vn/.style={font=\fs{8.3}, text=black!85}}
\node[vn] at (axis cs:78.3,332) {3813}; \node[vn] at (axis cs:78.3,345) {(47.2\%)};
\node[vn] at (axis cs:128.3,321) {692}; \node[vn] at (axis cs:128.3,334) {(8.6\%)};
\node[vn] at (axis cs:178,332) {2432}; \node[vn] at (axis cs:178,345) {(30.1\%)};
\node[vn] at (axis cs:128.3,358.3) {26}; \node[vn] at (axis cs:128.3,371) {(0.3\%)};
\node[vn] at (axis cs:97.3,370.7) {260}; \node[vn] at (axis cs:97.3,384) {(3.2\%)};
\node[vn] at (axis cs:159.3,370.7) {51}; \node[vn] at (axis cs:159.3,384) {(0.6\%)};
\node[vn] at (axis cs:128.3,409) {799}; \node[vn] at (axis cs:128.3,422.3) {(9.9\%)};
\end{axis}
\end{tikzpicture}
\end{document}
